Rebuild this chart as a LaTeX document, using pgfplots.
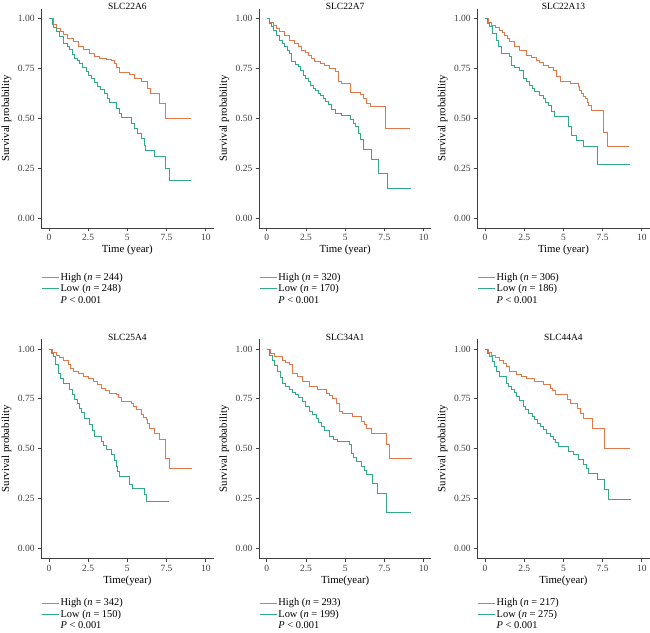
\documentclass[border=0pt]{standalone}
\usepackage{fontspec}
\setmainfont{Liberation Serif}
\usepackage{pgfplots}
\pgfplotsset{compat=1.18}
\definecolor{hi}{RGB}{224,122,74}
\definecolor{lo}{RGB}{50,170,138}
\pgfplotsset{km/.style={
  scale only axis, width=172.5pt, height=219.5pt,
  xmin=-0.5, xmax=10.5, ymin=-0.05, ymax=1.05,
  axis lines=left, axis line style={-, black!75, line width=0.8pt},
  tick style={black!75, line width=0.8pt}, tick align=outside, major tick length=3pt,
  xtick={0,2.5,5,7.5,10}, xticklabels={0,2.5,5,7.5,10},
  ytick={0,0.25,0.5,0.75,1}, yticklabels={0.00,0.25,0.50,0.75,1.00},
  /pgf/number format/assume math mode=true,
  ticklabel style={font=\fontsize{9.5}{11}\selectfont, text=black!75},
  ylabel={Survival probability},
  ylabel style={at={(axis description cs:-0.2,0.5)}, anchor=center, font=\fontsize{10.8}{12}\selectfont},
  xlabel style={at={(axis description cs:0.5,-0.1)}, anchor=center, font=\fontsize{10.8}{12}\selectfont},
  every axis title/.style={at={(0.5,1)}, anchor=base, yshift=-1.2pt, font=\fontsize{9.5}{11}\selectfont},
  legend style={anchor=north west, draw=none, fill=none, inner sep=0pt,
    font=\fontsize{10.4}{12}\selectfont, nodes={inner sep=1.4pt}, row sep=0pt, column sep=0pt},
  legend cell align=left,
  legend image code/.code={\draw[#1] (0pt,0pt) -- (17pt,0pt);},
  every axis plot/.append style={const plot, no marks, line width=0.9pt},
}, toprow/.style={legend style={at={(axis description cs:0,-0.198)}}},
   botrow/.style={legend style={at={(axis description cs:0,-0.176)}}}}
\begin{document}
\begin{tikzpicture}
\path[use as bounding box] (0,0) rectangle (650pt,-632pt);
% ---------------- SLC22A6
\begin{axis}[km, toprow, at={(41.1pt,-8.5pt)}, anchor=north west, title={SLC22A6}, xlabel={Time (year)}]
\addplot[hi] coordinates {(0,1) (0.27,0.97) (0.49,0.95) (0.72,0.935) (0.91,0.918) (1.2,0.9) (1.54,0.885) (1.85,0.86) (2.17,0.843) (2.6,0.826) (2.91,0.81) (3.23,0.80) (3.65,0.793) (3.96,0.788) (4.17,0.773) (4.3,0.756) (4.49,0.729) (5.13,0.722) (5.44,0.70) (5.9,0.684) (6.29,0.65) (6.5,0.625) (7.03,0.575) (7.45,0.5) (9.03,0.5)};
\addlegendentry{High (\textit{n} = 244)}
\addplot[lo] coordinates {(0,1) (0.2,0.97) (0.3,0.955) (0.49,0.935) (0.7,0.91) (0.91,0.876) (1.15,0.86) (1.33,0.843) (1.5,0.82) (1.65,0.80) (1.8,0.79) (1.96,0.776) (2.15,0.755) (2.38,0.734) (2.55,0.715) (2.7,0.70) (2.9,0.68) (3.12,0.659) (3.3,0.645) (3.54,0.625) (3.7,0.60) (3.86,0.579) (4.28,0.55) (4.49,0.525) (4.65,0.505) (5.23,0.475) (5.45,0.45) (5.65,0.425) (5.87,0.40) (6.08,0.366) (6.18,0.341) (6.71,0.308) (7.45,0.249) (7.66,0.187) (9.09,0.187)};
\addlegendentry{Low (\textit{n} = 248)}
\addlegendimage{empty legend}
\addlegendentry{\textit{P} < 0.001}
\end{axis}
% ---------------- SLC22A7
\begin{axis}[km, toprow, at={(258.9pt,-8.5pt)}, anchor=north west, title={SLC22A7}, xlabel={Time (year)}]
\addplot[hi] coordinates {(0,1) (0.2,0.98) (0.4,0.967) (0.6,0.95) (0.83,0.933) (1.15,0.917) (1.47,0.89) (1.79,0.875) (2.0,0.858) (2.21,0.842) (2.45,0.83) (2.64,0.817) (2.85,0.8) (3.07,0.783) (3.4,0.775) (3.71,0.767) (4.03,0.75) (4.35,0.733) (4.56,0.683) (4.78,0.672) (5.31,0.628) (5.95,0.617) (6.17,0.60) (6.38,0.575) (6.6,0.558) (7.55,0.45) (9.14,0.45)};
\addlegendentry{High (\textit{n} = 320)}
\addplot[lo] coordinates {(0,1) (0.15,0.975) (0.3,0.958) (0.45,0.94) (0.62,0.917) (0.83,0.892) (1.0,0.875) (1.15,0.858) (1.3,0.84) (1.47,0.825) (1.58,0.783) (1.8,0.77) (2.0,0.758) (2.15,0.74) (2.32,0.717) (2.5,0.70) (2.64,0.683) (2.8,0.665) (2.96,0.65) (3.1,0.64) (3.28,0.625) (3.45,0.612) (3.6,0.60) (3.75,0.585) (3.92,0.567) (4.15,0.545) (4.35,0.525) (4.78,0.512) (5.31,0.492) (5.5,0.475) (5.63,0.458) (5.84,0.425) (5.95,0.392) (6.17,0.342) (6.69,0.295) (7.12,0.225) (7.72,0.15) (9.21,0.15)};
\addlegendentry{Low (\textit{n} = 170)}
\addlegendimage{empty legend}
\addlegendentry{\textit{P} < 0.001}
\end{axis}
% ---------------- SLC22A13
\begin{axis}[km, toprow, at={(477.2pt,-8.5pt)}, anchor=north west, title={SLC22A13}, xlabel={Time (year)}]
\addplot[hi] coordinates {(0,1) (0.2,0.98) (0.39,0.967) (0.65,0.955) (0.92,0.941) (1.1,0.93) (1.24,0.916) (1.4,0.9) (1.56,0.883) (1.9,0.862) (2.2,0.841) (2.63,0.816) (2.95,0.805) (3.28,0.791) (3.5,0.778) (3.7,0.766) (4.05,0.755) (4.35,0.741) (4.56,0.707) (4.78,0.682) (5.42,0.674) (5.95,0.657) (6.05,0.64) (6.17,0.624) (6.3,0.61) (6.38,0.599) (6.5,0.58) (6.6,0.565) (6.81,0.537) (7.56,0.431) (7.82,0.36) (9.19,0.36)};
\addlegendentry{High (\textit{n} = 306)}
\addplot[lo] coordinates {(0,1) (0.15,0.975) (0.28,0.958) (0.45,0.925) (0.71,0.891) (0.85,0.86) (1.03,0.824) (1.56,0.808) (1.67,0.766) (1.9,0.755) (2.2,0.741) (2.42,0.699) (2.65,0.685) (2.85,0.666) (3.0,0.65) (3.17,0.632) (3.45,0.615) (3.7,0.599) (3.85,0.58) (4.03,0.565) (4.25,0.535) (4.45,0.507) (5.31,0.457) (5.52,0.415) (5.85,0.39) (6.27,0.36) (7.17,0.269) (9.27,0.269)};
\addlegendentry{Low (\textit{n} = 186)}
\addlegendimage{empty legend}
\addlegendentry{\textit{P} < 0.001}
\end{axis}
% ---------------- SLC25A4
\begin{axis}[km, botrow, at={(41.1pt,-339pt)}, anchor=north west, title={SLC25A4}, xlabel={Time(year)}]
\addplot[hi] coordinates {(0,1) (0.25,0.985) (0.49,0.97) (0.7,0.958) (0.91,0.945) (1.23,0.92) (1.4,0.9) (1.54,0.887) (1.85,0.875) (2.18,0.862) (2.5,0.85) (2.81,0.837) (3.1,0.82) (3.34,0.803) (3.6,0.79) (3.87,0.778) (4.29,0.77) (4.45,0.755) (4.61,0.737) (5.24,0.728) (5.4,0.712) (5.56,0.695) (5.88,0.67) (6.05,0.658) (6.19,0.645) (6.3,0.625) (6.41,0.603) (6.72,0.578) (7.04,0.545) (7.46,0.453) (7.67,0.40) (9.11,0.40)};
\addlegendentry{High (\textit{n} = 342)}
\addplot[lo] coordinates {(0,1) (0.15,0.98) (0.27,0.962) (0.4,0.92) (0.59,0.878) (0.75,0.85) (0.91,0.828) (1.33,0.795) (1.5,0.77) (1.65,0.745) (1.8,0.725) (1.97,0.703) (2.1,0.68) (2.28,0.653) (2.6,0.62) (2.75,0.59) (2.92,0.562) (3.34,0.537) (3.5,0.515) (3.66,0.495) (3.97,0.47) (4.15,0.44) (4.29,0.412) (4.4,0.385) (4.5,0.362) (5.14,0.32) (5.35,0.303) (6.09,0.27) (6.19,0.237) (7.67,0.237)};
\addlegendentry{Low (\textit{n} = 150)}
\addlegendimage{empty legend}
\addlegendentry{\textit{P} < 0.001}
\end{axis}
% ---------------- SLC34A1
\begin{axis}[km, botrow, at={(258.9pt,-339pt)}, anchor=north west, title={SLC34A1}, xlabel={Time(year)}]
\addplot[hi] coordinates {(0,1) (0.25,0.98) (0.47,0.962) (1.0,0.945) (1.2,0.935) (1.43,0.92) (1.64,0.878) (1.95,0.86) (2.28,0.837) (2.71,0.812) (3.25,0.795) (3.78,0.778) (4.0,0.765) (4.21,0.753) (4.42,0.728) (4.63,0.687) (4.85,0.678) (5.49,0.662) (6.03,0.637) (6.2,0.62) (6.35,0.603) (6.66,0.578) (7.63,0.52) (7.84,0.45) (9.29,0.45)};
\addlegendentry{High (\textit{n} = 293)}
\addplot[lo] coordinates {(0,1) (0.2,0.97) (0.36,0.945) (0.5,0.915) (0.68,0.887) (0.85,0.855) (1.0,0.828) (1.2,0.81) (1.43,0.795) (1.65,0.782) (1.86,0.77) (2.05,0.755) (2.28,0.737) (2.5,0.71) (2.71,0.687) (2.9,0.67) (3.14,0.653) (3.3,0.632) (3.46,0.612) (3.7,0.59) (3.99,0.562) (4.25,0.548) (4.52,0.537) (5.27,0.52) (5.38,0.478) (5.55,0.455) (5.69,0.437) (6.03,0.412) (6.2,0.39) (6.35,0.37) (6.77,0.325) (7.09,0.275) (7.63,0.182) (9.23,0.182)};
\addlegendentry{Low (\textit{n} = 199)}
\addlegendimage{empty legend}
\addlegendentry{\textit{P} < 0.001}
\end{axis}
% ---------------- SLC44A4
\begin{axis}[km, botrow, at={(477.2pt,-339pt)}, anchor=north west, title={SLC44A4}, xlabel={Time(year)}]
\addplot[hi] coordinates {(0,1) (0.2,0.985) (0.39,0.97) (0.65,0.958) (0.92,0.945) (1.15,0.93) (1.35,0.912) (1.57,0.887) (2.0,0.87) (2.35,0.862) (2.65,0.853) (3.18,0.837) (3.72,0.82) (4.15,0.803) (4.3,0.79) (4.47,0.77) (5.23,0.745) (5.44,0.728) (5.87,0.703) (6.09,0.678) (6.3,0.653) (6.84,0.603) (7.63,0.503) (9.27,0.503)};
\addlegendentry{High (\textit{n} = 217)}
\addplot[lo] coordinates {(0,1) (0.15,0.98) (0.28,0.962) (0.45,0.94) (0.6,0.912) (0.75,0.885) (0.92,0.862) (1.35,0.828) (1.5,0.812) (1.68,0.795) (1.85,0.78) (2.0,0.762) (2.2,0.74) (2.43,0.712) (2.6,0.695) (2.75,0.678) (3.0,0.66) (3.18,0.645) (3.35,0.628) (3.51,0.612) (3.7,0.595) (3.94,0.578) (4.15,0.562) (4.37,0.545) (4.5,0.53) (4.69,0.512) (5.33,0.487) (5.66,0.47) (5.98,0.445) (6.3,0.42) (6.45,0.4) (6.62,0.378) (7.16,0.345) (7.63,0.295) (7.85,0.248) (9.31,0.248)};
\addlegendentry{Low (\textit{n} = 275)}
\addlegendimage{empty legend}
\addlegendentry{\textit{P} < 0.001}
\end{axis}
\end{tikzpicture}
\end{document}
